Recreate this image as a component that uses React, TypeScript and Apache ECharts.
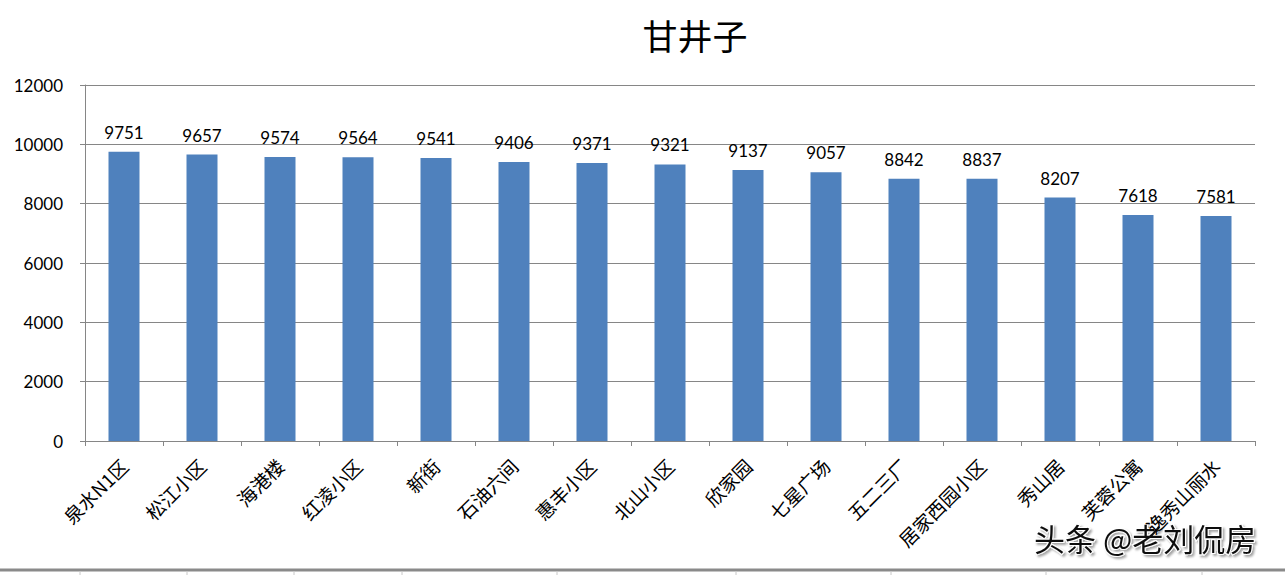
import React, { useEffect, useRef } from "react";
import * as echarts from "echarts";

const title = "甘井子";
const categories = [
  "泉水N1区", "松江小区", "海港楼", "红凌小区", "新街", "石油六间", "惠丰小区", "北山小区",
  "欣家园", "七星广场", "五二三厂", "居家西园小区", "秀山居", "芙蓉公寓", "逸秀山丽水",
];
const values = [9751, 9657, 9574, 9564, 9541, 9406, 9371, 9321, 9137, 9057, 8842, 8837, 8207, 7618, 7581];
const yMin = 0;
const yMax = 12000;
const yStep = 2000;
const watermark = "头条 @老刘侃房";

export default function App() {
  const ref = useRef<HTMLDivElement>(null);
  useEffect(() => {
    document.body.style.margin = "0";
    const chart = echarts.init(ref.current!, null, { renderer: "svg" });
    const bottomTicks = [80, 187, 294, 402, 557, 736, 891, 1046, 1202];
    chart.setOption({
      animation: false,
      backgroundColor: "#ffffff",
      title: {
        text: title,
        left: 690,
        top: 12,
        textAlign: "center",
        textStyle: { fontFamily: "Noto Sans CJK SC", fontSize: 35, fontWeight: "normal", color: "#000" },
      },
      grid: { left: 85, top: 85, width: 1170, height: 356, containLabel: false },
      xAxis: {
        type: "category",
        data: categories,
        axisLine: { lineStyle: { color: "#868686", width: 1 } },
        axisTick: { show: true, alignWithLabel: false, length: 5, lineStyle: { color: "#868686" } },
        axisLabel: {
          rotate: 45,
          interval: 0,
          margin: 21,
          fontSize: 19,
          color: "#000",
          fontFamily: "Noto Sans CJK SC",
        },
      },
      yAxis: {
        type: "value",
        min: yMin,
        max: yMax,
        interval: yStep,
        axisLine: { show: true, lineStyle: { color: "#868686", width: 1 } },
        axisTick: { show: true, length: 5, lineStyle: { color: "#868686" } },
        splitLine: { lineStyle: { color: "#868686", width: 1 } },
        axisLabel: {
          fontSize: 17,
          color: "#000",
          margin: 22,
          fontFamily: "Lato",
          formatter: (v: number) => String(v),
        },
      },
      series: [
        {
          type: "bar",
          data: values,
          barWidth: 31,
          itemStyle: { color: "#4F81BD" },
          label: {
            show: true,
            position: "top",
            distance: 11,
            fontSize: 17,
            color: "#000",
            fontFamily: "Lato",
          },
        },
      ],
      graphic: [
        {
          type: "line",
          shape: { x1: 0, y1: 570, x2: 1285, y2: 570 },
          style: { stroke: "#8a8a8a", lineWidth: 3 },
        },
        ...bottomTicks.map((x) => ({
          type: "line",
          shape: { x1: x, y1: 571, x2: x, y2: 575 },
          style: { stroke: "#c8c8c8", lineWidth: 1 },
        })),
        {
          type: "text",
          x: 1034,
          y: 522,
          style: {
            text: watermark,
            fontSize: 31,
            fontFamily: "Noto Sans CJK SC",
            fill: "#111",
            stroke: "#ffffff",
            lineWidth: 2,
            textShadowColor: "rgba(0,0,0,0.35)",
            textShadowOffsetX: 2,
            textShadowOffsetY: 2,
            textShadowBlur: 2,
          },
        },
      ],
    });
    return () => chart.dispose();
  }, []);
  return <div ref={ref} style={{ width: 1285, height: 575 }} />;
}
